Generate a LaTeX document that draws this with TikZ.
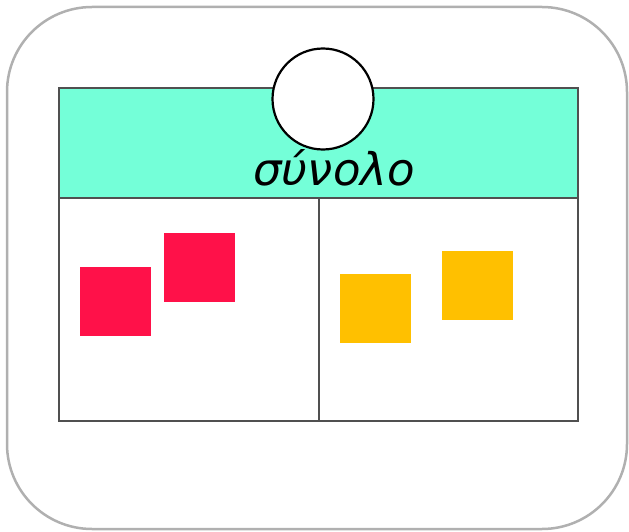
\documentclass[tikz,border=0pt]{standalone}
\usepackage{fontspec}
\newfontfamily\grk{DejaVu Sans}
\definecolor{teal1}{RGB}{116,255,216}
\definecolor{red1}{RGB}{255,17,73}
\definecolor{yel1}{RGB}{255,192,0}
\definecolor{outer}{RGB}{176,176,176}
\definecolor{frame1}{RGB}{80,80,80}
\begin{document}
\begin{tikzpicture}[x=1pt,y=-1pt,
  sq/.style={draw=none,inner sep=0pt,minimum width=71pt,minimum height=69pt},
  cell/.style={draw=frame1,line width=1.3pt}]
\useasboundingbox (0,0) rectangle (629,532);
\draw[outer,line width=2.5pt,rounded corners=85pt] (7,7) rectangle (627,529);
\fill[teal1] (59,88) rectangle (578,198);
\draw[cell] (59,88) rectangle (578,421);
\draw[cell] (59,198) -- (578,198);
\draw[cell] (319,198) -- (319,421);
\node[circle,draw=black,fill=white,line width=2.2pt,minimum size=101pt,inner sep=0pt] (c) at (323,99) {};
\node[anchor=base,inner sep=0pt] (t) at (334,185) {\fontsize{45}{45}\selectfont\grk\itshape σύνολο};
\node[sq,fill=red1,anchor=north west] (r1) at (80,267) {};
\node[sq,fill=red1,anchor=north west] (r2) at (164,233) {};
\node[sq,fill=yel1,anchor=north west] (y1) at (340,274) {};
\node[sq,fill=yel1,anchor=north west] (y2) at (442,251) {};
\end{tikzpicture}
\end{document}
